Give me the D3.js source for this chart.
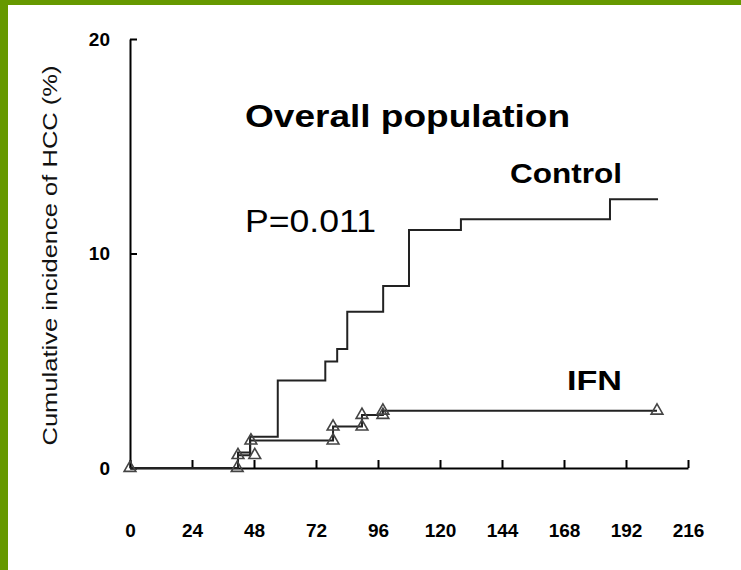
<!DOCTYPE html>
<html>
<head>
<meta charset="utf-8">
<script src="https://cdn.jsdelivr.net/npm/d3@7"></script>
<style>
  html, body { margin: 0; padding: 0; background: #fff; }
  svg { display: block; }
</style>
</head>
<body>
<svg id="chart" width="741" height="570"></svg>
<script>
// Follow-up time in months and cumulative HCC incidence (%) at each step
const controlMonths = [0, 41.8, 46.5, 57.2, 75.6, 80.2, 84.1, 98.0, 108.0, 128.1, 185.8, 204.4];
const controlIncidence = [0, 0.72, 1.46, 4.08, 4.96, 5.55, 7.29, 8.48, 11.1, 11.6, 12.53, 12.53];

const ifnMonths = [0, 41.8, 46.5, 78.6, 89.8, 97.9, 204.0];
const ifnIncidence = [0, 0.6, 1.28, 1.93, 2.47, 2.67, 2.67];

// Censored observations in the IFN group
const ifnCensorMonths = [0, 41.5, 41.8, 48.3, 46.8, 78.6, 78.6, 89.8, 89.8, 97.9, 97.9, 204.0];
const ifnCensorIncidence = [0, 0, 0.6, 0.6, 1.28, 1.28, 1.93, 1.93, 2.47, 2.47, 2.67, 2.67];

const xTicks = [0, 24, 48, 72, 96, 120, 144, 168, 192, 216];
const yTicks = [0, 10, 20];

const svg = d3.select("#chart");
const W = 741, H = 570;

// Slide frame: green bars along the top and left edges
svg.append("rect").attr("x", 0).attr("y", 0).attr("width", W).attr("height", H).attr("fill", "#fff");
svg.append("rect").attr("x", 0).attr("y", 0).attr("width", W).attr("height", 5).attr("fill", "#669900");
svg.append("rect").attr("x", 0).attr("y", 0).attr("width", 8).attr("height", H).attr("fill", "#669900");

const x = d3.scaleLinear().domain([0, 216]).range([130, 688]);
const y = d3.scaleLinear().domain([0, 20]).range([468, 39]);

const tickFont = "'Liberation Sans Narrow', 'Arial Narrow', Arial, sans-serif";

// X axis with inward ticks
const gx = svg.append("g")
  .attr("transform", `translate(0,${y(0)})`)
  .call(d3.axisBottom(x).tickValues(xTicks).tickSizeInner(-8).tickSizeOuter(0).tickPadding(56)
    .tickFormat(d3.format("d")));
gx.select(".domain").attr("stroke", "#000").attr("stroke-width", 2);
gx.selectAll(".tick line").attr("stroke", "#000").attr("stroke-width", 2);
gx.selectAll(".tick text")
  .attr("fill", "#000")
  .style("font-family", tickFont)
  .style("font-weight", "bold")
  .style("font-size", "19px");

// Y axis with inward ticks
const gy = svg.append("g")
  .attr("transform", `translate(${x(0)},0)`)
  .call(d3.axisLeft(y).tickValues(yTicks).tickSizeInner(-7).tickSizeOuter(0).tickPadding(20)
    .tickFormat(d3.format("d")));
gy.select(".domain").attr("stroke", "#000").attr("stroke-width", 2);
gy.selectAll(".tick line").attr("stroke", "#000").attr("stroke-width", 2);
gy.selectAll(".tick text")
  .attr("fill", "#000")
  .style("font-family", tickFont)
  .style("font-weight", "bold")
  .style("font-size", "19px");

// Y axis title
svg.append("text")
  .attr("transform", `translate(49,${(y(0) + y(20)) / 2 + 2}) rotate(-90)`)
  .attr("text-anchor", "middle")
  .attr("dominant-baseline", "central")
  .attr("textLength", 380)
  .attr("lengthAdjust", "spacingAndGlyphs")
  .style("font-family", tickFont)
  .style("font-size", "21px")
  .attr("fill", "#111")
  .text("Cumulative incidence of HCC (%)");

// Step curves
const step = d3.line()
  .x(d => x(d[0]))
  .y(d => y(d[1]))
  .curve(d3.curveStepAfter);

const controlData = controlMonths.map((m, i) => [m, controlIncidence[i]]);
const ifnData = ifnMonths.map((m, i) => [m, ifnIncidence[i]]);

svg.append("path").datum(controlData)
  .attr("d", step).attr("fill", "none").attr("stroke", "#222").attr("stroke-width", 2);
svg.append("path").datum(ifnData)
  .attr("d", step).attr("fill", "none").attr("stroke", "#222").attr("stroke-width", 2);

// Censor marks
const tri = d3.symbol().type(d3.symbolTriangle).size(60);
svg.append("g").selectAll("path")
  .data(ifnCensorMonths.map((m, i) => [m, ifnCensorIncidence[i]]))
  .join("path")
  .attr("transform", d => `translate(${x(d[0])},${y(d[1])})`)
  .attr("d", tri)
  .attr("fill", "none")
  .attr("stroke", "#444")
  .attr("stroke-width", 1.6);

// Annotations
const labelFont = "'Liberation Sans', Arial, Helvetica, sans-serif";
function label(txt, xPos, yPos, size, weight, len) {
  svg.append("text").attr("x", xPos).attr("y", yPos)
    .attr("textLength", len).attr("lengthAdjust", "spacingAndGlyphs")
    .style("font-family", labelFont).style("font-weight", weight).style("font-size", size + "px")
    .attr("fill", "#000")
    .text(txt);
}
label("Overall population", 245, 127, 32, "bold", 325);
label("P=0.011", 245, 232, 31, "normal", 131);
label("Control", 510, 183, 27, "bold", 112);
label("IFN", 567, 390, 27, "bold", 55);
</script>
</body>
</html>
